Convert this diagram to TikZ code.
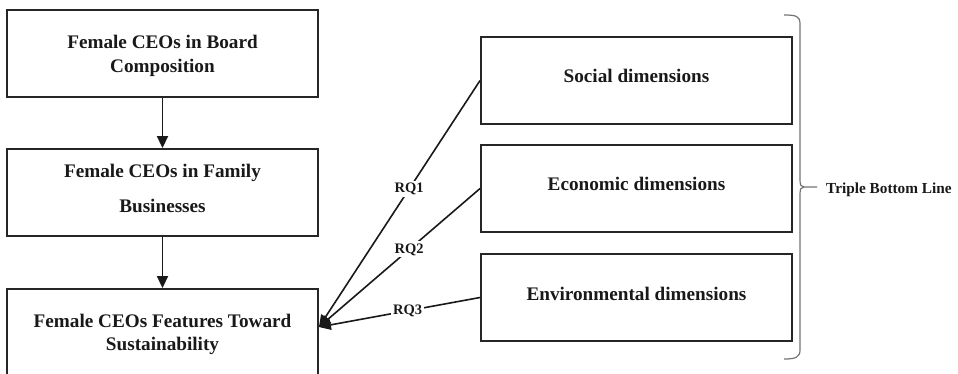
\documentclass[tikz,border=0pt]{standalone}
\usepackage{fontspec}
\setmainfont{Liberation Serif}
\usetikzlibrary{arrows.meta,calc}
\begin{document}
\begin{tikzpicture}[x=1pt,y=-1pt,
  box/.style={draw=black!85,line width=1.9pt,minimum width=311pt,minimum height=87pt,inner sep=0pt},
  boxtxt/.style={font=\bfseries\fontsize{19.2}{24}\selectfont,align=center,inner sep=0pt,text=black!90},
  arr/.style={draw=black!90,line width=1.8pt,-{Triangle[length=12pt,width=11pt]}},
  rq/.style={draw=black!90,line width=1.6pt,-{Triangle[length=12pt,width=10pt]}},
  rqlab/.style={font=\bfseries\fontsize{14.5}{17}\selectfont,fill=white,inner sep=2pt,text=black!90},
  brace/.style={draw=black!55,line width=1.2pt}
]
\useasboundingbox (0,0) rectangle (958,373);
\clip (0,0) rectangle (958,373);

% left column
\node[box] (b1) at (162.5,53.5) {};
\node[box] (b2) at (162.5,192.5) {};
\node[box,minimum height=86pt] (b3) at (162.5,332) {};
\node[boxtxt] (t1) at (162.5,55.5) {Female CEOs in Board\\Composition};
\node[boxtxt] (t2) at (162.5,188.1) {Female CEOs in Family\\[11pt]Businesses};
\node[boxtxt] (t3) at (162.5,334) {Female CEOs Features Toward\\[-1pt]Sustainability};

\draw[arr] (b1) -- (b2);
\draw[arr] (b2) -- (b3);

% right column
\node[box] (s) at (636.5,80.5) {};
\node[box] (e) at (636.5,188.5) {};
\node[box] (v) at (636.5,297.5) {};
\node[boxtxt,anchor=base] (ts) at (636.5,82.7) {Social dimensions};
\node[boxtxt,anchor=base] (te) at (636.5,190.7) {Economic dimensions};
\node[boxtxt,anchor=base] (tv) at (636.5,300) {Environmental dimensions};

% research questions
\coordinate (tip) at ($(b3.east)+(0,-5)$);
\draw[rq] (s.west) -- node[rqlab,pos=0.44] (rq1) {RQ1} (tip);
\draw[rq] (e.west) -- node[rqlab,pos=0.44] (rq2) {RQ2} (tip);
\draw[rq] (v.west) -- node[rqlab,pos=0.45] (rq3) {RQ3} (tip);

% brace
\draw[brace] (784,15) .. controls (796,15) and (800,16) .. (800,24) -- (800,180)
  .. controls (800,185) and (801,187) .. (804,187) -- (817,187);
\draw[brace] (804,187) .. controls (801,187) and (800,189) .. (800,194) -- (800,350)
  .. controls (800,357) and (796,359) .. (784,359);
\node[font=\bfseries\fontsize{15.3}{18}\selectfont,anchor=base west,inner sep=0pt,text=black!90] (tbl) at (826,193) {Triple Bottom Line};
\end{tikzpicture}
\end{document}
